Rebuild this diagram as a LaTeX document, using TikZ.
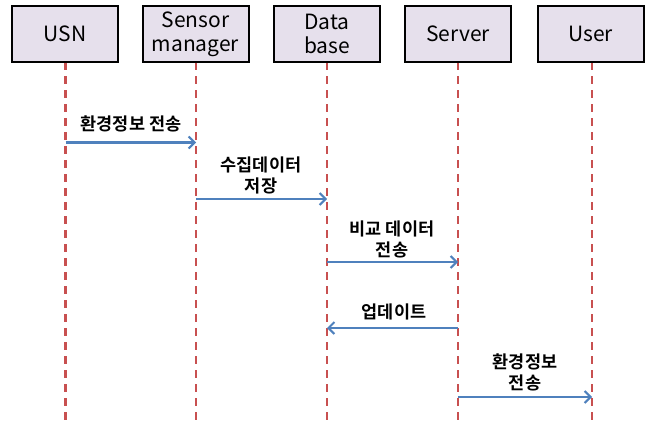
\documentclass[tikz,border=0pt]{standalone}
\usepackage{fontspec}
\setmainfont{Noto Sans CJK KR}
\newfontfamily\krbold{Noto Sans CJK KR Bold}
\usetikzlibrary{arrows.meta}
\definecolor{boxfill}{RGB}{230,224,236}
\definecolor{lifered}{RGB}{200,80,80}
\definecolor{msgblue}{RGB}{79,129,189}
\tikzset{
  actor/.style={draw=black, line width=2pt, fill=boxfill, minimum width=106pt, minimum height=56pt,
    inner sep=0pt, align=center, font=\fontsize{21}{24}\selectfont},
  lifeline/.style={draw=lifered, line width=2.4pt, dash pattern=on 8pt off 6pt},
  msg/.style={draw=msgblue, line width=2.2pt, -{Straight Barb[length=6pt,width=12pt,line width=2pt]}},
  lbl/.style={align=center, font=\krbold\fontsize{17.5}{21}\selectfont, inner sep=1pt}
}
\begin{document}
\begin{tikzpicture}[x=1pt,y=-1pt]
\useasboundingbox (0,0) rectangle (651,423);
% lifeline ends
\coordinate (usnE) at (65.5,423);
\coordinate (smE) at (196,423);
\coordinate (dbE) at (327,423);
\coordinate (srvE) at (458,423);
\coordinate (userE) at (592,423);
\coordinate (usnT) at (65.5,34);
\coordinate (smT) at (196,34);
\coordinate (dbT) at (327,34);
\coordinate (srvT) at (458,34);
\coordinate (userT) at (592,34);
\draw[lifeline] (usnT) -- (usnE);
\draw[lifeline] (smT) -- (smE);
\draw[lifeline] (dbT) -- (dbE);
\draw[lifeline] (srvT) -- (srvE);
\draw[lifeline] (userT) -- (userE);
% actors
\node[actor] (usn) at (65,34) {USN};
\node[actor] (sm) at (195.5,34) {Sensor\\manager};
\node[actor] (db) at (327,34) {Data\\base};
\node[actor] (srv) at (458,34) {Server};
\node[actor] (user) at (590.5,34) {User};
% messages
\coordinate (m1a) at (65.5,142.5); \coordinate (m1b) at (196,142.5);
\coordinate (m2a) at (196,199); \coordinate (m2b) at (327,199);
\coordinate (m3a) at (327,262); \coordinate (m3b) at (458,262);
\coordinate (m4a) at (458,328); \coordinate (m4b) at (327,328);
\coordinate (m5a) at (458,397); \coordinate (m5b) at (592,397);
\draw[msg] (m1a) -- (m1b);
\draw[msg] (m2a) -- (m2b);
\draw[msg] (m3a) -- (m3b);
\draw[msg] (m4a) -- (m4b);
\draw[msg] (m5a) -- (m5b);
% labels
\node[lbl] (l1) at (131,124) {환경정보 전송};
\node[lbl] (l2) at (261,175) {수집데이터\\저장};
\node[lbl] (l3) at (392,239) {비교 데이터\\전송};
\node[lbl] (l4) at (394,312) {업데이트};
\node[lbl] (l5) at (525,372) {환경정보\\전송};
\end{tikzpicture}
\end{document}
